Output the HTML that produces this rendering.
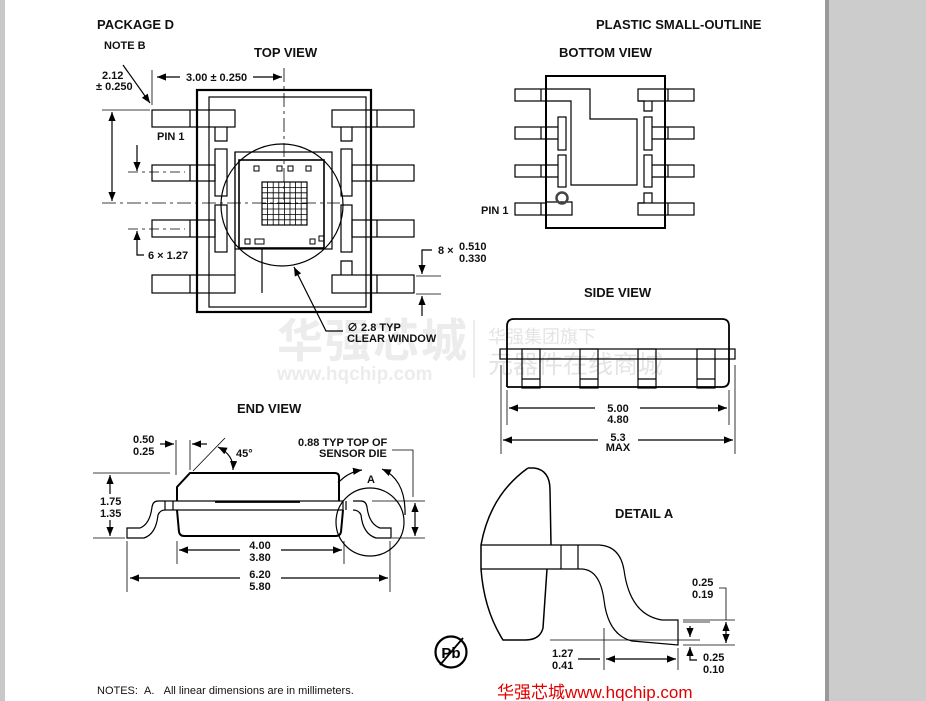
<!DOCTYPE html>
<html><head><meta charset="utf-8"><style>
html,body{margin:0;padding:0;background:#fff}
svg{display:block}
text{font-family:"Liberation Sans","Noto Sans CJK SC",sans-serif}
.b{font-weight:bold;font-size:11px;fill:#111}
.h{font-weight:bold;font-size:13px;fill:#111}
</style></head><body>
<svg width="926" height="701" viewBox="0 0 926 701" xmlns="http://www.w3.org/2000/svg">
<defs>
<marker id="a" viewBox="0 0 10 10" refX="10" refY="5" markerWidth="9" markerHeight="9" orient="auto-start-reverse" markerUnits="userSpaceOnUse"><path d="M0,1 L10,5 L0,9 z" fill="#000"/></marker>
</defs>
<rect x="0" y="0" width="5" height="701" fill="#c8c8c8"/>
<rect x="825" y="0" width="101" height="701" fill="#cccccc"/>
<rect x="825" y="0" width="4" height="701" fill="#999"/>

<!-- watermarks -->
<text x="277" y="357" font-size="46" font-weight="bold" fill="#ececec" letter-spacing="2">华强芯城</text>
<text x="277" y="380" font-size="19" font-weight="bold" fill="#ececec">www.hqchip.com</text>
<line x1="474" y1="320" x2="474" y2="378" stroke="#ececec" stroke-width="2"/>
<text x="488" y="343" font-size="18" fill="#e4e4e4">华强集团旗下</text>
<text x="488" y="373" font-size="25" fill="#e4e4e4">元器件在线商城</text>

<g fill="none" stroke="#000" stroke-width="1.2">
<!-- ===== TOP VIEW ===== -->
<rect x="197" y="90" width="174" height="222" stroke-width="2.2"/>
<rect x="209" y="97" width="157" height="210"/>
<rect x="152" y="110" width="83" height="17"/><line x1="190" y1="110" x2="190" y2="127"/>
<rect x="152" y="165" width="63" height="16"/><line x1="190" y1="165" x2="190" y2="181"/>
<rect x="152" y="220" width="63" height="17"/><line x1="190" y1="220" x2="190" y2="237"/>
<rect x="152" y="275" width="83" height="18"/><line x1="190" y1="275" x2="190" y2="293"/>
<path d="M215,127 V141 H227 V127"/>
<rect x="215" y="149" width="12" height="47"/>
<rect x="215" y="205" width="12" height="47"/>
<path d="M235,152 V275"/>
<rect x="332" y="110" width="82" height="17"/><line x1="377" y1="110" x2="377" y2="127"/>
<rect x="352" y="165" width="62" height="16"/><line x1="377" y1="165" x2="377" y2="181"/>
<rect x="352" y="220" width="62" height="17"/><line x1="377" y1="220" x2="377" y2="237"/>
<rect x="332" y="275" width="82" height="18"/><line x1="377" y1="275" x2="377" y2="293"/>
<path d="M341,127 V141 H352 V127"/>
<rect x="341" y="149" width="11" height="47"/>
<rect x="341" y="205" width="11" height="47"/>
<path d="M341,275 V261 H352 V275"/>
<rect x="235" y="152" width="97" height="97"/>
<path d="M262,249 V293"/>
<rect x="239" y="160" width="85" height="88" stroke-width="1.6"/>
<circle cx="282" cy="205" r="61"/>
<g stroke-width="1">
<rect x="254" y="166" width="5" height="5"/><rect x="277" y="166" width="5" height="5"/><rect x="288" y="166" width="5" height="5"/><rect x="306" y="166" width="5" height="5"/>
<rect x="245" y="239" width="5" height="5"/><rect x="255" y="239" width="9" height="5"/><rect x="310" y="239" width="5" height="5"/><rect x="319" y="236" width="5" height="5"/>
</g>
<rect x="262" y="182" width="45" height="43"/>
<path stroke-width="0.8" d="M267.6,182V225M273.2,182V225M278.8,182V225M284.4,182V225M290,182V225M295.6,182V225M301.2,182V225M262,187.4H307M262,192.8H307M262,198.2H307M262,203.6H307M262,209H307M262,214.4H307M262,219.8H307"/>
<path stroke-width="0.8" stroke-dasharray="14,4,3,4" d="M102,203 H340 M284,68 V200"/>
<path stroke-width="0.8" stroke-dasharray="10,4,3,4" d="M128,172 H185 M128,229 H185"/>
<line x1="152" y1="70" x2="152" y2="105" stroke-width="0.8"/>
<line x1="157" y1="77" x2="180" y2="77" marker-start="url(#a)"/>
<line x1="253" y1="77" x2="282" y2="77" marker-end="url(#a)"/>
<line x1="102" y1="110" x2="150" y2="110" stroke-width="0.8"/>
<line x1="112" y1="112" x2="112" y2="201" marker-start="url(#a)" marker-end="url(#a)"/>
<path d="M123,65 L150,103" marker-end="url(#a)"/>
<line x1="137" y1="145" x2="137" y2="171" marker-end="url(#a)"/>
<path d="M144,255 H137 V231" marker-end="url(#a)"/>
<path d="M432,250 H422 V274" marker-end="url(#a)"/>
<line x1="416" y1="276" x2="441" y2="276" stroke-width="0.8"/>
<line x1="416" y1="294" x2="441" y2="294" stroke-width="0.8"/>
<line x1="422" y1="316" x2="422" y2="296" marker-end="url(#a)"/>
<path d="M343,331 H326 L294,267" marker-end="url(#a)"/>

<!-- ===== BOTTOM VIEW ===== -->
<rect x="546" y="76" width="119" height="152" stroke-width="2"/>
<rect x="515" y="89" width="31" height="12"/><line x1="541" y1="89" x2="541" y2="101"/>
<rect x="515" y="127" width="31" height="12"/><line x1="541" y1="127" x2="541" y2="139"/>
<rect x="515" y="165" width="31" height="12"/><line x1="541" y1="165" x2="541" y2="177"/>
<rect x="515" y="203" width="31" height="12"/><line x1="541" y1="203" x2="541" y2="215"/>
<path d="M546,89 H590 V119 H637 V185 H571 V101 H546"/>
<path d="M546,127 H558 M546,139 H558 M546,165 H558 M546,177 H558"/>
<rect x="558" y="117" width="8" height="33"/>
<rect x="558" y="155" width="8" height="32"/>
<path d="M546,202 H572 V215 H546"/>
<circle cx="562" cy="198" r="5.5" stroke-width="2.5" stroke="#444"/>
<rect x="638" y="89" width="56" height="12"/><line x1="668" y1="89" x2="668" y2="101"/>
<rect x="665" y="127" width="29" height="12"/><line x1="668" y1="127" x2="668" y2="139"/>
<rect x="665" y="165" width="29" height="12"/><line x1="668" y1="165" x2="668" y2="177"/>
<rect x="638" y="203" width="56" height="12"/><line x1="668" y1="203" x2="668" y2="215"/>
<path d="M652,127 H665 M652,139 H665 M652,165 H665 M652,177 H665"/>
<path d="M638,101 H644 V111 H652 V101"/>
<rect x="644" y="117" width="8" height="33"/>
<rect x="644" y="155" width="8" height="32"/>
<path d="M638,203 H644 V193 H652 V203"/>

<!-- ===== SIDE VIEW ===== -->
<path d="M507,387 V326 Q507,319 514,319 H722 Q729,319 729,326 V380 Q729,387 722,387 H507" stroke-width="1.8"/>
<rect x="500" y="349" width="235" height="10"/>
<rect x="522" y="349" width="18" height="39"/><line x1="522" y1="379" x2="540" y2="379"/>
<rect x="580" y="349" width="18" height="39"/><line x1="580" y1="379" x2="598" y2="379"/>
<rect x="638" y="349" width="18" height="39"/><line x1="638" y1="379" x2="656" y2="379"/>
<rect x="697" y="349" width="18" height="39"/><line x1="697" y1="379" x2="715" y2="379"/>
<line x1="507" y1="390" x2="507" y2="425" stroke-width="0.8"/>
<line x1="729" y1="390" x2="729" y2="425" stroke-width="0.8"/>
<line x1="501" y1="365" x2="501" y2="454" stroke-width="0.8"/>
<line x1="735" y1="365" x2="735" y2="454" stroke-width="0.8"/>
<line x1="509" y1="408" x2="595" y2="408" marker-start="url(#a)"/>
<line x1="640" y1="408" x2="727" y2="408" marker-end="url(#a)"/>
<line x1="503" y1="440" x2="598" y2="440" marker-start="url(#a)"/>
<line x1="638" y1="440" x2="733" y2="440" marker-end="url(#a)"/>

<!-- ===== END VIEW ===== -->
<path d="M177,501 V487 L190,473 H335 Q339,473 339,477 V501" stroke-width="2"/>
<path d="M177,510 L179,532 Q180,536 184,536 H336 Q340,536 341,532 L343,510" stroke-width="2"/>
<line x1="215" y1="502" x2="300" y2="502" stroke-width="1.8"/>
<rect x="165" y="501" width="178" height="9"/>
<line x1="173" y1="501" x2="173" y2="510"/><line x1="346" y1="501" x2="346" y2="510"/>
<path d="M165,501 H158 Q153,501 152,507 Q150,524 140,528 H127 V538 H144 Q156,534 158,515 Q160,510 165,510"/>
<path d="M353,501 H361 Q366,501 367,507 Q369,524 380,528 H391 V538 H376 Q363,534 361,515 Q359,510 353,510"/>
<circle cx="370" cy="522" r="34"/>
<path d="M338,483 Q348,472 362,470" marker-end="url(#a)"/>
<path d="M382,469 Q406,480 405,515" marker-start="url(#a)"/>
<line x1="176" y1="440" x2="176" y2="475" stroke-width="0.8"/>
<line x1="190" y1="440" x2="190" y2="470" stroke-width="0.8"/>
<line x1="160" y1="444" x2="174" y2="444" marker-end="url(#a)"/>
<line x1="207" y1="444" x2="192" y2="444" marker-end="url(#a)"/>
<line x1="193" y1="471" x2="225" y2="438" stroke-width="0.8"/>
<path d="M218,447 Q234,455 233,470" marker-start="url(#a)" marker-end="url(#a)"/>
<line x1="93" y1="473" x2="170" y2="473" stroke-width="0.8"/>
<line x1="93" y1="538" x2="125" y2="538" stroke-width="0.8"/>
<line x1="110" y1="475" x2="110" y2="494" marker-start="url(#a)"/>
<line x1="110" y1="520" x2="110" y2="536" marker-end="url(#a)"/>
<line x1="177" y1="541" x2="177" y2="564" stroke-width="0.8"/>
<line x1="344" y1="541" x2="344" y2="564" stroke-width="0.8"/>
<line x1="179" y1="550" x2="240" y2="550" marker-start="url(#a)"/>
<line x1="281" y1="550" x2="342" y2="550" marker-end="url(#a)"/>
<line x1="127" y1="541" x2="127" y2="592" stroke-width="0.8"/>
<line x1="390" y1="541" x2="390" y2="592" stroke-width="0.8"/>
<line x1="130" y1="578" x2="240" y2="578" marker-start="url(#a)"/>
<line x1="281" y1="578" x2="388" y2="578" marker-end="url(#a)"/>
<path d="M392,450 H413 V497 M372,501 H425 M392,538 H425" stroke-width="0.8"/>
<line x1="415" y1="503" x2="415" y2="536" marker-start="url(#a)" marker-end="url(#a)"/>

<!-- ===== DETAIL A ===== -->
<path d="M528,468 H534 Q550,470 550,490 L551,545 M547,569 L543,628 Q540,640 525,640 H503 Q484,610 481,569 V545 Q490,495 528,468" stroke-width="1.5"/>
<path d="M481,545 H599 Q620,546 624,570 Q630,615 662,620 H678 V645 L632,641 Q608,635 604,600 Q600,570 582,569 H481"/>
<line x1="561" y1="545" x2="561" y2="569"/><line x1="578" y1="545" x2="578" y2="569"/>
<line x1="550" y1="640" x2="700" y2="640" stroke-width="0.8"/>
<line x1="683" y1="622" x2="710" y2="622" stroke-width="0.8"/>
<line x1="683" y1="645" x2="735" y2="645" stroke-width="0.8"/>
<line x1="683" y1="620" x2="735" y2="620" stroke-width="0.8"/>
<path d="M719,588 H726 V620" stroke-width="0.8"/>
<line x1="726" y1="622" x2="726" y2="643" marker-start="url(#a)" marker-end="url(#a)"/>
<line x1="690" y1="626" x2="690" y2="637" marker-end="url(#a)"/>
<path d="M697,660 H690 V647" marker-end="url(#a)"/>
<line x1="604" y1="628" x2="604" y2="670" stroke-width="0.8"/>
<line x1="678" y1="648" x2="678" y2="670" stroke-width="0.8"/>
<line x1="578" y1="659" x2="600" y2="659"/>
<line x1="606" y1="659" x2="676" y2="659" marker-start="url(#a)" marker-end="url(#a)"/>

<circle cx="451" cy="652" r="15.5" stroke-width="2.2"/>
<line x1="440" y1="665" x2="463" y2="638" stroke-width="1.8"/>
</g>
<text x="451" y="658" font-size="15" font-weight="bold" text-anchor="middle" fill="#000">Pb</text>

<text x="97" y="29" class="h">PACKAGE D</text>
<text x="596" y="29" class="h">PLASTIC SMALL-OUTLINE</text>
<text x="254" y="57" class="h">TOP VIEW</text>
<text x="559" y="57" class="h">BOTTOM VIEW</text>
<text x="584" y="297" class="h">SIDE VIEW</text>
<text x="237" y="413" class="h">END VIEW</text>
<text x="615" y="518" class="h" font-size="12">DETAIL A</text>
<text x="104" y="49" class="b">NOTE B</text>
<text x="102" y="79" class="b">2.12</text>
<text x="96" y="90" class="b">± 0.250</text>
<text x="186" y="81" class="b">3.00 ± 0.250</text>
<text x="157" y="140" class="b">PIN 1</text>
<text x="148" y="259" class="b">6 × 1.27</text>
<text x="438" y="254" class="b">8 ×</text>
<text x="459" y="250" class="b">0.510</text>
<text x="459" y="262" class="b">0.330</text>
<text x="347" y="331" class="b">∅ 2.8 TYP</text>
<text x="347" y="342" class="b">CLEAR WINDOW</text>
<text x="481" y="214" class="b">PIN 1</text>
<text x="618" y="412" class="b" text-anchor="middle">5.00</text>
<text x="618" y="423" class="b" text-anchor="middle">4.80</text>
<text x="618" y="441" class="b" text-anchor="middle">5.3</text>
<text x="618" y="451" class="b" text-anchor="middle">MAX</text>
<text x="133" y="443" class="b">0.50</text>
<text x="133" y="455" class="b">0.25</text>
<text x="236" y="457" class="b">45°</text>
<text x="298" y="446" class="b">0.88 TYP TOP OF</text>
<text x="319" y="457" class="b">SENSOR DIE</text>
<text x="367" y="483" class="b">A</text>
<text x="100" y="505" class="b">1.75</text>
<text x="100" y="517" class="b">1.35</text>
<text x="260" y="549" class="b" text-anchor="middle">4.00</text>
<text x="260" y="561" class="b" text-anchor="middle">3.80</text>
<text x="260" y="578" class="b" text-anchor="middle">6.20</text>
<text x="260" y="590" class="b" text-anchor="middle">5.80</text>
<text x="692" y="586" class="b">0.25</text>
<text x="692" y="598" class="b">0.19</text>
<text x="552" y="657" class="b">1.27</text>
<text x="552" y="669" class="b">0.41</text>
<text x="703" y="661" class="b">0.25</text>
<text x="703" y="673" class="b">0.10</text>
<text x="97" y="694" font-size="11" fill="#111">NOTES:&#160;&#160;A.&#160;&#160;&#160;All linear dimensions are in millimeters.</text>
<text x="497" y="698" font-size="17" fill="#e00000">华强芯城www.hqchip.com</text>
</svg>
</body></html>
